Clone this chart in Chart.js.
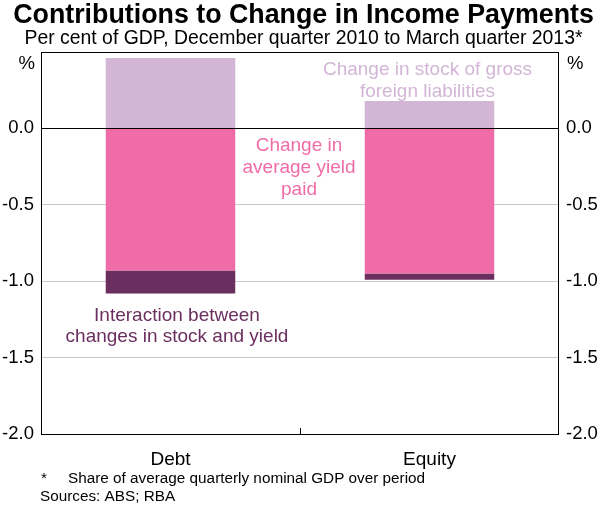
<!DOCTYPE html>
<html lang="en">
<head>
    <meta charset="UTF-8">
    <title>Contributions to Change in Income Payments</title>
    <script src="https://cdn.jsdelivr.net/npm/chart.js"></script>
    <style>
        body { margin: 0; background: #fff; }
        #wrap { width: 600px; height: 505px; }
    </style>
</head>
<body>
    <div id="wrap"><canvas id="chart" width="600" height="505"></canvas></div>

    <script>
        // Dati (per cento del PIL)
        const categories = ['Debt', 'Equity'];
        const stockChange = [0.46, 0.18];
        const yieldChange = [-0.93, -0.95];
        const interaction = [-0.15, -0.04];
        const yTicks = [0.5, 0, -0.5, -1, -1.5, -2];

        const colStock = '#d3b5d6';
        const colYield = '#f06ca8';
        const colInter = '#6b2f5f';
        const fontName = '"Liberation Sans", Arial, sans-serif';

        function tickLabel(v) {
            if (v === 0.5) return '';
            return v.toFixed(1);
        }

        // Testi, cornice e linea dello zero
        const decorations = {
            id: 'decorations',
            afterDatasetsDraw(chart) {
                const ctx = chart.ctx;
                const a = chart.chartArea;
                const y = chart.scales.y;
                const x = chart.scales.x;
                ctx.save();
                ctx.strokeStyle = '#000';
                ctx.lineWidth = 1;
                ctx.beginPath();
                const z = Math.round(y.getPixelForValue(0)) + 0.5;
                ctx.moveTo(a.left, z);
                ctx.lineTo(a.right, z);
                ctx.stroke();
                ctx.strokeRect(Math.round(a.left) + 0.5, Math.round(a.top) + 0.5,
                    Math.round(a.right - a.left) - 1, Math.round(a.bottom - a.top));
                // tacca centrale sull'asse x
                const mid = Math.round((x.getPixelForValue(0) + x.getPixelForValue(1)) / 2) + 0.5;
                ctx.beginPath();
                ctx.moveTo(mid, a.bottom);
                ctx.lineTo(mid, a.bottom - 6);
                ctx.stroke();

                ctx.fillStyle = '#000';
                ctx.textAlign = 'center';
                ctx.textBaseline = 'alphabetic';
                ctx.font = 'bold 26.8px ' + fontName;
                ctx.fillText('Contributions to Change in Income Payments', 303.5, 23);
                ctx.font = '19.4px ' + fontName;
                ctx.fillText('Per cent of GDP, December quarter 2010 to March quarter 2013*', 303.5, 44);

                ctx.font = '18.5px ' + fontName;
                ctx.textAlign = 'right';
                ctx.fillText('%', 35, 69);
                ctx.textAlign = 'left';
                ctx.fillText('%', 567, 69);

                ctx.textAlign = 'center';
                ctx.font = '19px ' + fontName;
                ctx.fillStyle = colStock;
                ctx.fillText('Change in stock of gross', 427.5, 74.5);
                ctx.fillText('foreign liabilities', 427.5, 96.5);
                ctx.fillStyle = colYield;
                ctx.fillText('Change in', 299, 151);
                ctx.fillText('average yield', 299, 173);
                ctx.fillText('paid', 299, 195);
                ctx.fillStyle = colInter;
                ctx.fillText('Interaction between', 177, 320.5);
                ctx.fillText('changes in stock and yield', 177, 342);

                ctx.fillStyle = '#000';
                ctx.textAlign = 'left';
                ctx.font = '15.3px ' + fontName;
                ctx.fillText('*', 41, 483);
                ctx.fillText('Share of average quarterly nominal GDP over period', 68, 483);
                ctx.fillText('Sources: ABS; RBA', 40, 501);
                ctx.restore();
            }
        };

        const yScale = (pos) => ({
            position: pos,
            min: -2,
            max: 0.5,
            afterBuildTicks(s) { s.ticks = yTicks.map(v => ({ value: v })); },
            afterFit(s) { s.width = 41; },
            border: { display: false },
            grid: {
                display: pos === 'left',
                drawTicks: false,
                color: (c) => (c.tick && (c.tick.value === 0 || c.tick.value === 0.5 || c.tick.value === -2)) ? 'rgba(0,0,0,0)' : '#c8c8c8'
            },
            ticks: {
                padding: 7,
                color: '#000',
                font: { family: fontName, size: 18.5 },
                callback: tickLabel
            }
        });

        new Chart(document.getElementById('chart'), {
            type: 'bar',
            data: {
                labels: categories,
                datasets: [
                    { label: 'Change in stock of gross foreign liabilities', data: stockChange, backgroundColor: colStock },
                    { label: 'Change in average yield paid', data: yieldChange, backgroundColor: colYield },
                    { label: 'Interaction between changes in stock and yield', data: interaction, backgroundColor: colInter }
                ]
            },
            options: {
                responsive: false,
                animation: false,
                layout: { padding: { top: 52, left: 0, right: 0, bottom: 0 } },
                datasets: { bar: { categoryPercentage: 1, barPercentage: 0.5 } },
                plugins: {
                    legend: { display: false },
                    tooltip: { enabled: false },
                    title: { display: false }
                },
                scales: {
                    x: {
                        stacked: true,
                        afterFit(s) { s.height = 71; },
                        border: { display: false },
                        grid: { display: false },
                        ticks: {
                            padding: 6,
                            color: '#000',
                            font: { family: fontName, size: 19 }
                        }
                    },
                    y: Object.assign(yScale('left'), { stacked: true }),
                    y2: yScale('right')
                }
            },
            plugins: [decorations]
        });
    </script>
</body>
</html>
